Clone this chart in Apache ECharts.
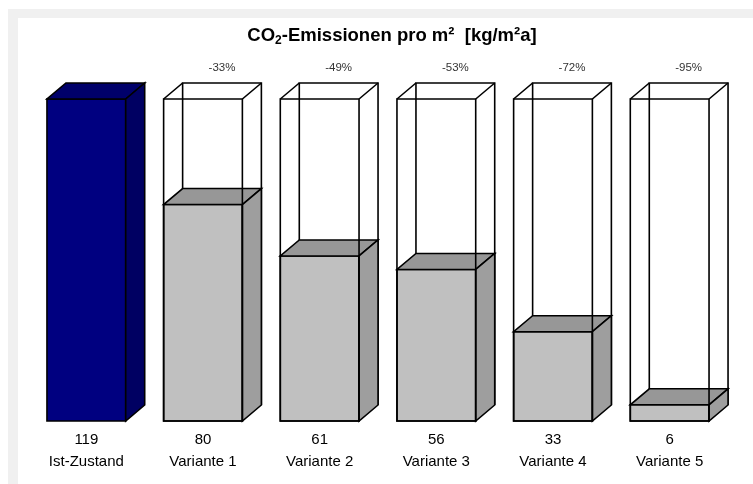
<!DOCTYPE html>
<html>
<head>
<meta charset="utf-8">
<script src="https://cdn.jsdelivr.net/npm/echarts@6/dist/echarts.min.js"></script>
<style>
html,body{margin:0;padding:0;background:#fff;}
#chart{width:753px;height:484px;}
</style>
</head>
<body>
<div id="chart"></div>
<script>
const categories = ['Ist-Zustand', 'Variante 1', 'Variante 2', 'Variante 3', 'Variante 4', 'Variante 5'];
const values = [119, 80, 61, 56, 33, 6];
const referenceValue = 119;
const pctLabels = ['', '-33%', '-49%', '-53%', '-72%', '-95%'];

const FONT = 'Liberation Sans, Arial, sans-serif';
const DX = 19, DY = 16;
const LW = 1.6;

function box(x0, x1, yTop, yBot, cFront, cTop, cSide) {
  return [
    { type: 'rect', shape: { x: x0, y: yTop, width: x1 - x0, height: yBot - yTop },
      style: { fill: cFront, stroke: '#000', lineWidth: LW } },
    { type: 'polygon', shape: { points: [[x0, yTop], [x1, yTop], [x1 + DX, yTop - DY], [x0 + DX, yTop - DY]] },
      style: { fill: cTop, stroke: '#000', lineWidth: LW } },
    { type: 'polygon', shape: { points: [[x1, yTop], [x1 + DX, yTop - DY], [x1 + DX, yBot - DY], [x1, yBot]] },
      style: { fill: cSide, stroke: '#000', lineWidth: LW } }
  ];
}

function renderItem(params, api) {
  const i = api.value(0);
  const v = api.value(1);
  const top = api.coord([i, v]);
  const base = api.coord([i, 0]);
  const ref = api.coord([i, referenceValue]);
  const bw = api.size([1, 0])[0] * 0.675;
  const x0 = top[0] - bw / 2, x1 = top[0] + bw / 2;
  const yBot = base[1], yTop = top[1], yRef = ref[1];
  let children = [];
  if (i === 0) {
    children = box(x0, x1, yTop, yBot, '#000080', '#00006a', '#000062');
  } else {
    children.push({ type: 'polyline', shape: { points: [[x0 + DX, yBot - DY], [x0 + DX, yRef - DY], [x1 + DX, yRef - DY], [x1 + DX, yBot - DY]] },
      style: { fill: null, stroke: '#000', lineWidth: LW } });
    children.push({ type: 'line', shape: { x1: x0, y1: yRef, x2: x0 + DX, y2: yRef - DY },
      style: { stroke: '#000', lineWidth: LW } });
    children = children.concat(box(x0, x1, yTop, yBot, '#c0c0c0', '#979797', '#9e9e9e'));
    children.push({ type: 'rect', shape: { x: x0, y: yRef, width: x1 - x0, height: yBot - yRef },
      style: { fill: null, stroke: '#000', lineWidth: LW } });
    children.push({ type: 'line', shape: { x1: x1, y1: yRef, x2: x1 + DX, y2: yRef - DY },
      style: { stroke: '#000', lineWidth: LW } });
    children.push({ type: 'text', style: { text: pctLabels[i], x: top[0] + DX, y: yRef - DY - 15,
      align: 'center', verticalAlign: 'middle', fontSize: 11.5, fontFamily: FONT, fill: '#333' } });
  }
  return { type: 'group', children: children };
}

const chart = echarts.init(document.getElementById('chart'));
chart.setOption({
  animation: false,
  backgroundColor: '#fff',
  graphic: [
    { type: 'rect', z: 0, shape: { x: 8, y: 9, width: 745, height: 475 }, style: { fill: '#f0f0f0' } },
    { type: 'rect', z: 0, shape: { x: 18, y: 18, width: 735, height: 466 }, style: { fill: '#fff' } }
  ],
  title: {
    text: '{a|CO}{s|2}{a|-Emissionen pro m²  [kg/m²a]}',
    left: 387, top: 19, textAlign: 'center',
    textStyle: {
      rich: {
        a: { fontSize: 18.5, fontWeight: 'bold', fontFamily: FONT, color: '#000', lineHeight: 23 },
        s: { fontSize: 12, fontWeight: 'bold', fontFamily: FONT, color: '#000', lineHeight: 12, verticalAlign: 'bottom' }
      }
    }
  },
  grid: { left: 28, right: 25, top: 99, bottom: 63 },
  xAxis: {
    type: 'category',
    data: categories,
    axisLine: { show: false },
    axisTick: { show: false },
    splitLine: { show: false },
    axisLabel: {
      margin: 8,
      interval: 0,
      formatter: function (val, idx) { return '{v|' + values[idx] + '}\n{n|' + val + '}'; },
      rich: {
        v: { fontSize: 15, fontFamily: FONT, color: '#000', lineHeight: 22 },
        n: { fontSize: 15, fontFamily: FONT, color: '#000', lineHeight: 22 }
      }
    }
  },
  yAxis: {
    type: 'value', min: 0, max: referenceValue,
    show: false,
    splitLine: { show: false }
  },
  series: [{
    type: 'custom',
    renderItem: renderItem,
    data: values.map((v, i) => [i, v]),
    encode: { x: 0, y: 1 },
    clip: false
  }]
});
</script>
</body>
</html>
